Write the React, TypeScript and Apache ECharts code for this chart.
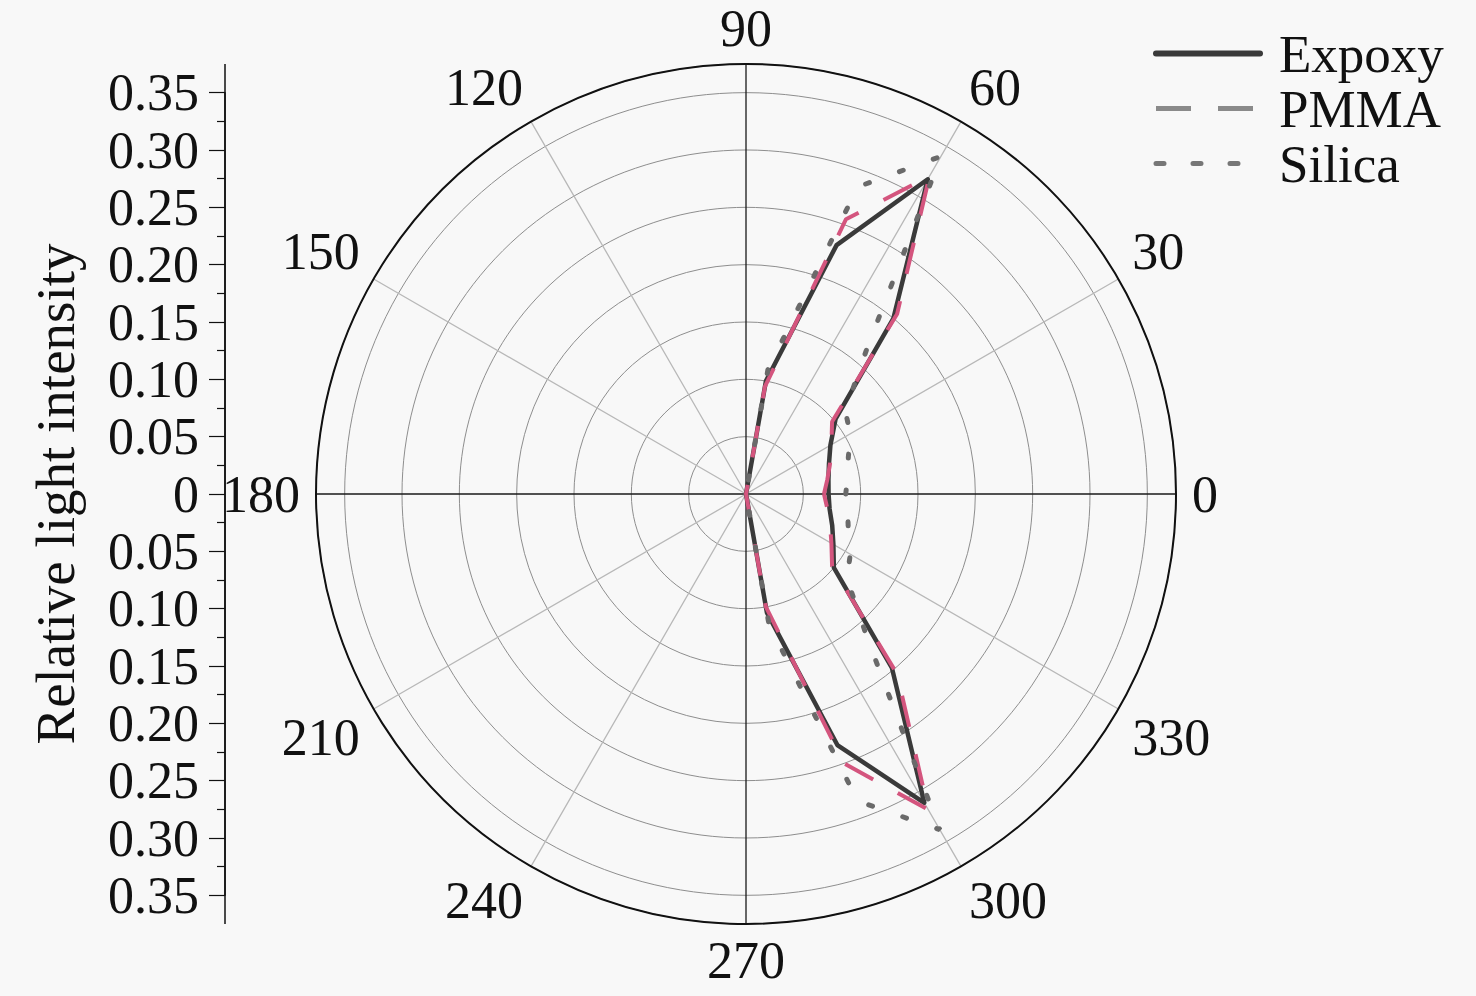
import React, { useEffect, useRef } from "react";
import * as echarts from "echarts";

// Angles (degrees) at which the intensity was sampled
const angles = [
  0, 10, 20, 30, 40, 50, 60, 70, 80, 90, 100, 110, 120, 130, 140, 150, 160, 170, 180,
  190, 200, 210, 220, 230, 240, 250, 260, 270, 280, 290, 300, 310, 320, 330, 340, 350, 360,
];

const expoxy = [
  0.072, 0.073, 0.077, 0.085, 0.102, 0.2, 0.317, 0.231, 0.1, 0, 0, 0, 0, 0, 0, 0, 0, 0, 0,
  0, 0, 0, 0, 0, 0, 0, 0, 0, 0.105, 0.233, 0.311, 0.198, 0.1, 0.088, 0.08, 0.074, 0.072,
];

const pmma = [
  0.068, 0.072, 0.078, 0.086, 0.098, 0.205, 0.32, 0.255, 0.095, 0, 0, 0, 0, 0, 0, 0, 0, 0, 0,
  0, 0, 0, 0, 0, 0, 0, 0, 0, 0.1, 0.25, 0.318, 0.205, 0.098, 0.086, 0.078, 0.072, 0.068,
];

const silica = [
  0.087, 0.09, 0.095, 0.105, 0.113, 0.163, 0.34, 0.285, 0.11, 0, 0, 0, 0, 0, 0, 0, 0, 0, 0,
  0, 0, 0, 0, 0, 0, 0, 0, 0, 0.115, 0.285, 0.338, 0.165, 0.115, 0.105, 0.095, 0.09, 0.087,
];

const seriesNames = ["Expoxy", "PMMA", "Silica"];
const angleTickStep = 30;
const radiusMax = 0.375;
const radiusStep = 0.05;
const intensityLimit = 0.35;

const FONT = '"Liberation Serif", "Times New Roman", Times, serif';
const CX = 746;
const CY = 494;
const R = 430;
const K = R / radiusMax;

export default function App() {
  const ref = useRef<HTMLDivElement | null>(null);

  useEffect(() => {
    if (!ref.current) return;
    const chart = echarts.init(ref.current, undefined, { renderer: "svg" });

    const toPolar = (vals: number[]) => angles.map((a, i) => [vals[i], a]);

    const option: any = {
      animation: false,
      backgroundColor: "#f8f8f8",
      polar: { center: [CX, CY], radius: R },
      angleAxis: {
        type: "value",
        min: 0,
        max: 360,
        interval: angleTickStep,
        startAngle: 0,
        clockwise: false,
        axisLine: { show: true, lineStyle: { color: "#111", width: 2 } },
        axisTick: { show: false },
        axisLabel: {
          show: true,
          margin: 16,
          fontSize: 52,
          lineHeight: 40,
          fontFamily: FONT,
          color: "#111",
          formatter: (v: number) => (v === 360 ? "" : String(v)),
        },
        splitLine: {
          show: true,
          lineStyle: { color: ["#1a1a1a", "#b8b8b8", "#b8b8b8"], width: 1.3 },
        },
      },
      radiusAxis: {
        type: "value",
        min: 0,
        max: radiusMax,
        interval: radiusStep,
        axisLine: { show: false },
        axisTick: { show: false },
        axisLabel: { show: false },
        splitLine: { show: true, lineStyle: { color: "#8e8e8e", width: 1 } },
      },
      grid: {
        left: 225,
        top: CY - intensityLimit * K,
        height: 2 * intensityLimit * K,
        width: 10,
      },
      xAxis: { type: "value", show: false, min: 0, max: 1 },
      yAxis: {
        type: "value",
        min: -intensityLimit,
        max: intensityLimit,
        interval: radiusStep,
        position: "left",
        axisLine: { show: true, lineStyle: { color: "#111", width: 1.5 } },
        axisTick: { show: true, length: 16, lineStyle: { color: "#111", width: 1.2 } },
        minorTick: { show: true, splitNumber: 2, length: 8, lineStyle: { color: "#111", width: 1.2 } },
        splitLine: { show: false },
        axisLabel: {
          margin: 26,
          fontSize: 52,
          fontFamily: FONT,
          color: "#111",
          formatter: (v: number) => (Math.abs(v) < 1e-9 ? "0" : Math.abs(v).toFixed(2)),
        },
        name: "Relative light intensity",
        nameLocation: "middle",
        nameGap: 142,
        nameTextStyle: { fontSize: 55, fontFamily: FONT, color: "#111" },
      },
      legend: {
        orient: "vertical",
        left: 1148,
        top: 22,
        itemWidth: 104,
        itemHeight: 16,
        itemGap: 2,
        itemStyle: { opacity: 0 },
        textStyle: { fontSize: 53, fontFamily: FONT, color: "#111", padding: [0, 0, 0, 14] },
        data: [
          { name: seriesNames[0], lineStyle: { color: "#3a3a3a", width: 6, type: "solid" } },
          { name: seriesNames[1], lineStyle: { color: "#8a8a8a", width: 5, type: [35, 27] } },
          { name: seriesNames[2], lineStyle: { color: "#777", width: 5, type: [8, 29] } },
        ],
      },
      graphic: [
        {
          type: "line",
          shape: { x1: 225, y1: CY - R, x2: 225, y2: CY + R },
          style: { stroke: "#111", lineWidth: 1.5 },
          silent: true,
        },
      ],
      series: [
        {
          name: seriesNames[0],
          type: "line",
          coordinateSystem: "polar",
          data: toPolar(expoxy),
          symbol: "none",
          lineStyle: { color: "#3a3a3a", width: 4.5, join: "round", cap: "round" },
          itemStyle: { color: "#3a3a3a" },
          z: 3,
        },
        {
          name: seriesNames[1],
          type: "line",
          coordinateSystem: "polar",
          data: toPolar(pmma),
          symbol: "none",
          lineStyle: { color: "#d4557e", width: 4, type: [32, 28] },
          itemStyle: { color: "#d4557e" },
          z: 4,
        },
        {
          name: seriesNames[2],
          type: "line",
          coordinateSystem: "polar",
          data: toPolar(silica),
          symbol: "none",
          lineStyle: { color: "#6a6a6a", width: 5, type: [4, 32], cap: "round" },
          itemStyle: { color: "#6a6a6a" },
          z: 5,
        },
      ],
    };

    chart.setOption(option);
    return () => chart.dispose();
  }, []);

  return (
    <div
      ref={ref}
      style={{ position: "absolute", left: 0, top: 0, width: 1476, height: 996 }}
    />
  );
}
